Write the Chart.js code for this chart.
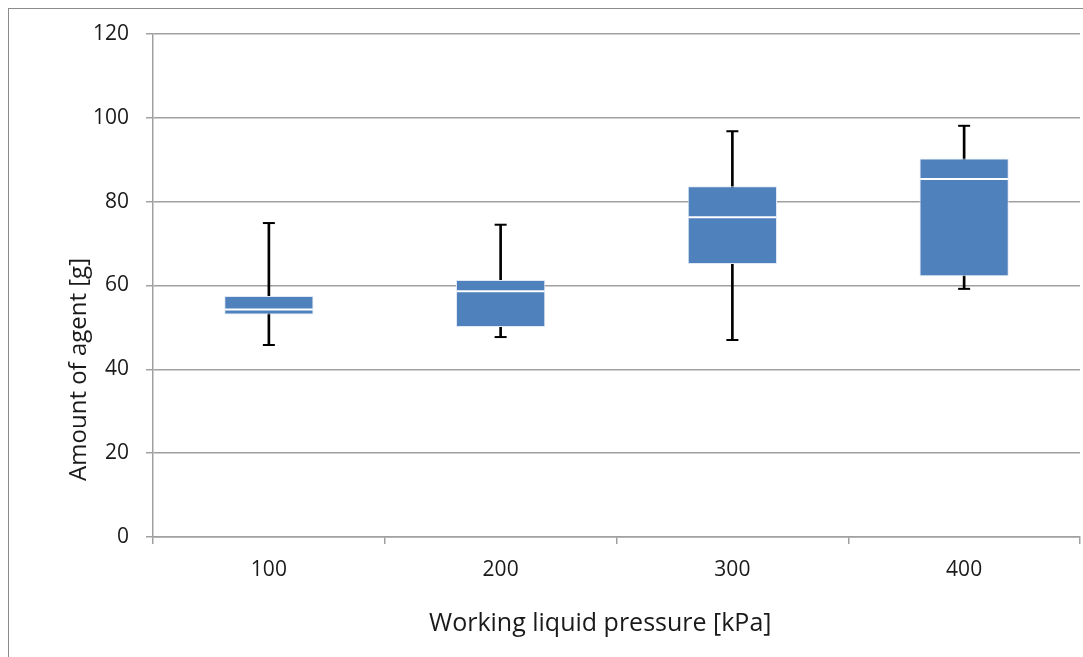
<!DOCTYPE html>
<html>
<head>
<meta charset="utf-8">
<script src="https://cdn.jsdelivr.net/npm/chart.js@4.4.0/dist/chart.umd.min.js"></script>
<style>
  html, body { margin: 0; padding: 0; background: #fff; }
  #wrap { position: relative; width: 1083px; height: 657px; overflow: hidden; }
  #frame { position: absolute; left: 8px; top: 8px; width: 1200px; height: 800px; border: 1px solid #8c8c8c; pointer-events: none; }
  canvas { position: absolute; left: 0; top: 0; }
</style>
</head>
<body>
<div id="wrap">
  <canvas id="c" width="1083" height="657"></canvas>
  <div id="frame"></div>
</div>
<script>
const categories = ['100', '200', '300', '400'];
const minValues = [45.8, 47.7, 47.0, 59.2];
const q1Values = [53.1, 50.1, 65.1, 62.2];
const medianValues = [54.3, 58.6, 76.3, 85.4];
const q3Values = [57.5, 61.3, 83.7, 90.3];
const maxValues = [74.9, 74.5, 96.8, 98.1];
const yTicks = [0, 20, 40, 60, 80, 100, 120];
const xTitle = 'Working liquid pressure [kPa]';
const yTitle = 'Amount of agent [g]';

const boxData = categories.map((c, i) => [q1Values[i], q3Values[i]]);
const whiskerData = categories.map((c, i) => [minValues[i], maxValues[i]]);

const FONT = "'Open Sans', 'Liberation Sans', sans-serif";
const TXT = '#1a1a1a';
const GRID = '#a0a0a0';
const NB = '\u00a0';

new Chart(document.getElementById('c'), {
  type: 'bar',
  data: {
    labels: categories,
    datasets: [
      { type: 'line', label: 'median', data: medianValues, showLine: false,
        pointStyle: 'line', pointRadius: 44, pointBorderColor: '#ffffff',
        pointBorderWidth: 2, order: 0 },
      { type: 'line', label: 'max', data: maxValues, showLine: false,
        pointStyle: 'line', pointRadius: 6, pointBorderColor: '#000000',
        pointBorderWidth: 2, order: 1 },
      { type: 'line', label: 'min', data: minValues, showLine: false,
        pointStyle: 'line', pointRadius: 6, pointBorderColor: '#000000',
        pointBorderWidth: 2, order: 1 },
      { type: 'bar', label: 'box', data: boxData, grouped: false,
        backgroundColor: '#4f81bd', borderColor: '#dfe8f4', borderWidth: 1,
        borderSkipped: false, categoryPercentage: 1.0, barPercentage: 0.385, order: 2 },
      { type: 'bar', label: 'whisker', data: whiskerData, grouped: false,
        backgroundColor: '#000000', barThickness: 2, order: 3 }
    ]
  },
  options: {
    responsive: false,
    animation: false,
    events: [],
    layout: { autoPadding: false, padding: { left: 0, right: 3, top: 34, bottom: 0 } },
    plugins: { legend: { display: false }, tooltip: { enabled: false } },
    scales: {
      x: {
        type: 'category',
        offset: true,
        grid: { display: true, drawOnChartArea: false, drawTicks: true, offset: true,
                tickLength: 7, color: GRID, lineWidth: 1.5 },
        border: { display: true, color: GRID, width: 1.5 },
        ticks: { color: TXT, font: { family: FONT, size: 21 }, padding: 13 },
        title: { display: true, text: xTitle + NB.repeat(5), color: TXT,
                 font: { family: FONT, size: 25 }, padding: { top: 0, bottom: 18 } },
        afterFit: (s) => { s.height = 120; }
      },
      y: {
        min: 0, max: 120,
        afterBuildTicks: (s) => { s.ticks = yTicks.map(v => ({ value: v })); },
        grid: { display: true, drawOnChartArea: true, drawTicks: true, tickLength: 7,
                color: GRID, lineWidth: 1.5 },
        border: { display: true, color: GRID, width: 1.5 },
        ticks: { color: TXT, font: { family: FONT, size: 21 }, padding: 17 },
        title: { display: true, text: NB.repeat(9) + yTitle, align: 'start', color: TXT,
                 font: { family: FONT, size: 24 }, padding: { top: 65, bottom: 0 } },
        afterFit: (s) => { s.width = 153; }
      }
    }
  }
});
</script>
</body>
</html>
